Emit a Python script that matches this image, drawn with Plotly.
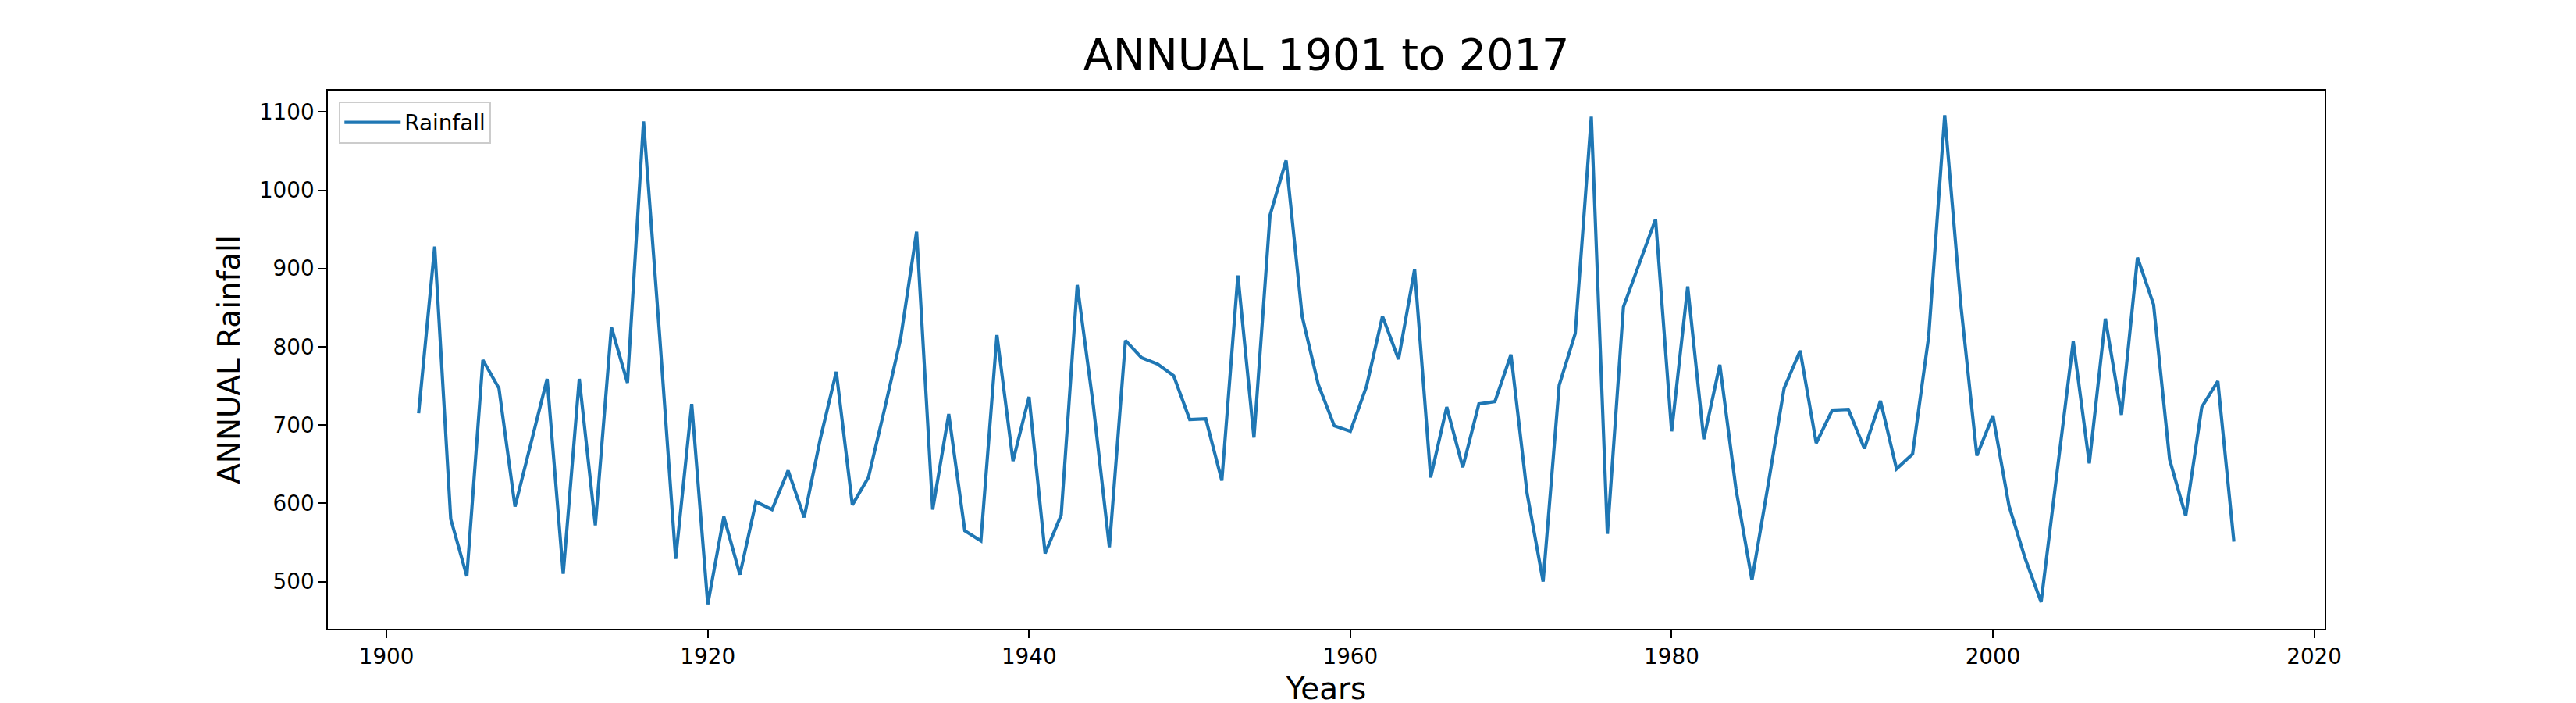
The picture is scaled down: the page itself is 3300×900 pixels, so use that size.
import plotly.graph_objects as go

years = [
    1902, 1903, 1904, 1905, 1906, 1907, 1908, 1909, 1910, 1911,
    1912, 1913, 1914, 1915, 1916, 1917, 1918, 1919, 1920, 1921,
    1922, 1923, 1924, 1925, 1926, 1927, 1928, 1929, 1930, 1931,
    1932, 1933, 1934, 1935, 1936, 1937, 1938, 1939, 1940, 1941,
    1942, 1943, 1944, 1945, 1946, 1947, 1948, 1949, 1950, 1951,
    1952, 1953, 1954, 1955, 1956, 1957, 1958, 1959, 1960, 1961,
    1962, 1963, 1964, 1965, 1966, 1967, 1968, 1969, 1970, 1971,
    1972, 1973, 1974, 1975, 1976, 1977, 1978, 1979, 1980, 1981,
    1982, 1983, 1984, 1985, 1986, 1987, 1988, 1989, 1990, 1991,
    1992, 1993, 1994, 1995, 1996, 1997, 1998, 1999, 2000, 2001,
    2002, 2003, 2004, 2005, 2006, 2007, 2008, 2009, 2010, 2011,
    2012, 2013, 2014, 2015,
]

rainfall = [
    715, 928, 580, 507, 783, 747, 596, 678, 759, 510,
    759, 572, 825, 754, 1088, 815, 529, 727, 471, 583,
    509, 602, 592, 642, 582, 682, 768, 598, 633, 720,
    810, 947, 592, 714, 565, 552, 815, 654, 736, 536,
    585, 879, 725, 544, 808, 786, 778, 763, 707, 708,
    629, 891, 684, 968, 1038, 839, 752, 699, 692, 749,
    839, 784, 899, 633, 723, 646, 727, 730, 790, 613,
    500, 751, 817, 1094, 561, 851, 907, 963, 692, 877,
    682, 777, 619, 502, 623, 747, 795, 677, 719, 720,
    670, 731, 644, 663, 813, 1096, 854, 661, 712, 597,
    530, 474, 641, 807, 651, 836, 713, 914, 854, 656,
    584, 723, 756, 551,
]

x_ticks = [1900, 1920, 1940, 1960, 1980, 2000, 2020]
y_ticks = [500, 600, 700, 800, 900, 1000, 1100]

title_text = "ANNUAL 1901 to 2017"
x_label = "Years"
y_label = "ANNUAL Rainfall"
series_name = "Rainfall"

FONT = "DejaVu Sans"
TICK_PX = 27.8
LABEL_PX = 38.9
TITLE_PX = 55.6

fig = go.Figure()
fig.add_trace(go.Scatter(
    x=years, y=rainfall, mode="lines", name=series_name,
    line=dict(color="#1f77b4", width=4.17),
))

axis_common = dict(
    showline=True, linecolor="black", linewidth=2.2, mirror=True,
    ticks="outside", ticklen=9.7, tickwidth=2.2, tickcolor="black",
    showgrid=False, zeroline=False,
    tickfont=dict(family=FONT, size=TICK_PX, color="black"),
)

fig.update_layout(
    width=3300, height=900,
    margin=dict(l=412, r=330, t=108, b=99, pad=0),
    paper_bgcolor="white", plot_bgcolor="white",
    font=dict(family=FONT, color="black"),
    title=dict(
        text=title_text, x=0.5, xanchor="center", xref="paper",
        y=1 - 62 / 900, yanchor="middle", yref="container",
        font=dict(family=FONT, size=TITLE_PX, color="black"),
    ),
    showlegend=True,
    legend=dict(
        x=0.0055, y=0.98, xanchor="left", yanchor="top",
        bordercolor="#cccccc", borderwidth=2.2, bgcolor="rgba(255,255,255,0.8)",
        font=dict(family=FONT, size=TICK_PX, color="black"),
        itemwidth=72, tracegroupgap=0,
    ),
    xaxis=dict(
        range=[1896.35, 2020.65], tickvals=x_ticks,
        ticktext=[str(v) for v in x_ticks],
        title=dict(text=x_label, font=dict(family=FONT, size=LABEL_PX, color="black"), standoff=12),
        **axis_common,
    ),
    yaxis=dict(
        range=[439.75, 1127.25], tickvals=y_ticks,
        ticktext=[str(v) for v in y_ticks],
        title=dict(text=y_label, font=dict(family=FONT, size=LABEL_PX, color="black"), standoff=12),
        **axis_common,
    ),
)

fig.write_html("out.html")
